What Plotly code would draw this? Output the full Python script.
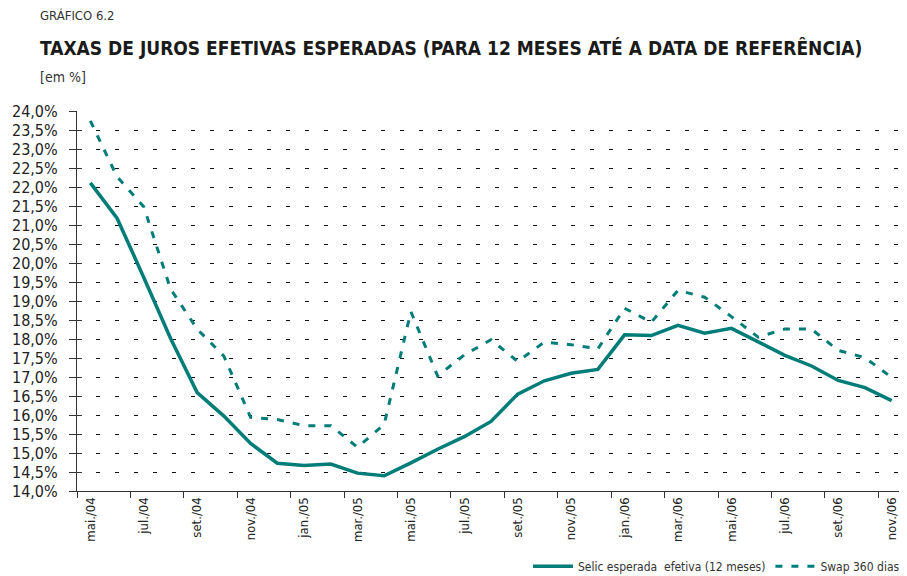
import plotly.graph_objects as go

months = ["mai.", "jun.", "jul.", "ago.", "set.", "out.", "nov.", "dez.",
          "jan.", "fev.", "mar.", "abr.", "mai.", "jun.", "jul.", "ago.", "set.", "out.", "nov.", "dez.",
          "jan.", "fev.", "mar.", "abr.", "mai.", "jun.", "jul.", "ago.", "set.", "out.", "nov."]
years = ["04"] * 8 + ["05"] * 12 + ["06"] * 11
categories = [m + "/" + y for m, y in zip(months, years)]

selic = [22.11, 21.18, 19.62, 18.02, 16.59, 15.97, 15.25, 14.73, 14.67, 14.71, 14.47, 14.40,
         14.74, 15.10, 15.43, 15.83, 16.55, 16.90, 17.10, 17.20, 18.11, 18.09, 18.36, 18.15,
         18.28, 17.93, 17.57, 17.29, 16.91, 16.72, 16.38]
swap = [23.74, 22.27, 21.48, 19.32, 18.26, 17.55, 15.94, 15.88, 15.72, 15.72, 15.15, 15.75,
        18.72, 17.03, 17.58, 17.98, 17.41, 17.92, 17.85, 17.74, 18.81, 18.44, 19.28, 19.10,
        18.59, 18.05, 18.26, 18.26, 17.70, 17.51, 16.99]

tick_labels = categories[::2]
y_ticks = [14 + 0.5 * k for k in range(21)]

teal = "#007d78"
font = "DejaVu Sans Condensed"

fig = go.Figure()
fig.add_trace(go.Scatter(x=categories, y=selic, mode="lines",
                         name="Selic esperada  efetiva (12 meses)",
                         line=dict(color=teal, width=3.5)))
fig.add_trace(go.Scatter(x=categories, y=swap, mode="lines",
                         name="Swap 360 dias",
                         line=dict(color=teal, width=3, dash="7px,9px")))
# invisible helper trace so the inner tick marks of the overlay axis are drawn
fig.add_trace(go.Scatter(x=categories[:1], y=selic[:1], yaxis="y2", mode="markers",
                         marker=dict(opacity=0), showlegend=False, hoverinfo="skip"))

# page body has an 8px default margin: figure drawn at (8, 8)
fig.update_layout(
    width=899, height=568,
    margin=dict(l=69, r=2, t=103, b=85, autoexpand=False),
    paper_bgcolor="white", plot_bgcolor="white",
    separators=",.",
    font=dict(family=font, color="#222222", size=13),
    showlegend=True,
    legend=dict(orientation="h", x=1.0, xanchor="right", y=-0.198, yanchor="middle",
                font=dict(size=12, family=font, color="#333333"), itemwidth=40, tracegroupgap=0,
                bgcolor="rgba(0,0,0,0)"),
    yaxis2=dict(overlaying="y", side="left", range=[14, 24], tickmode="array", tickvals=y_ticks,
                showticklabels=False, ticks="inside", ticklen=5, tickcolor="#333333",
                showgrid=False, showline=False, zeroline=False, automargin=False),
)
fig.update_xaxes(type="category", tickmode="array", tickvals=tick_labels, ticktext=tick_labels,
                 tickson="boundaries", ticks="outside", ticklen=6, tickcolor="#333333",
                 tickangle=-90, showgrid=False, showline=True, linecolor="#333333", linewidth=1.2,
                 range=[-0.5, 30.5], tickfont=dict(size=13, family=font, color="#222222"),
                 zeroline=False, automargin=False)
fig.update_yaxes(selector=dict(anchor="x"), overwrite=False)
fig.layout.yaxis.update(range=[14, 24], tickmode="array", tickvals=y_ticks,
                        ticktext=[("%.1f" % v).replace(".", ",") + "%" for v in y_ticks],
                        ticks="outside", ticklen=7, tickcolor="#333333", ticklabelstandoff=8,
                        showline=True, linecolor="#333333", linewidth=1.2,
                        showgrid=True, gridcolor="#111111", gridwidth=1, griddash="4px,15px",
                        tickfont=dict(size=16, family=font, color="#222222"), zeroline=False,
                        automargin=False)

fig.add_annotation(text="GRÁFICO 6.2", xref="paper", yref="paper", x=-0.047, y=1.2526,
                   xanchor="left", yanchor="middle", showarrow=False,
                   font=dict(size=13, family=font, color="#333333"))
fig.add_annotation(text="<b>TAXAS DE JUROS EFETIVAS ESPERADAS (PARA 12 MESES ATÉ A DATA DE REFERÊNCIA)</b>",
                   xref="paper", yref="paper", x=-0.047, y=1.1658,
                   xanchor="left", yanchor="middle", showarrow=False,
                   font=dict(size=19, family=font, color="#1a1a1a"))
fig.add_annotation(text="[em %]", xref="paper", yref="paper", x=-0.047, y=1.0895,
                   xanchor="left", yanchor="middle", showarrow=False,
                   font=dict(size=14, family=font, color="#333333"))

fig.write_html("out.html")
